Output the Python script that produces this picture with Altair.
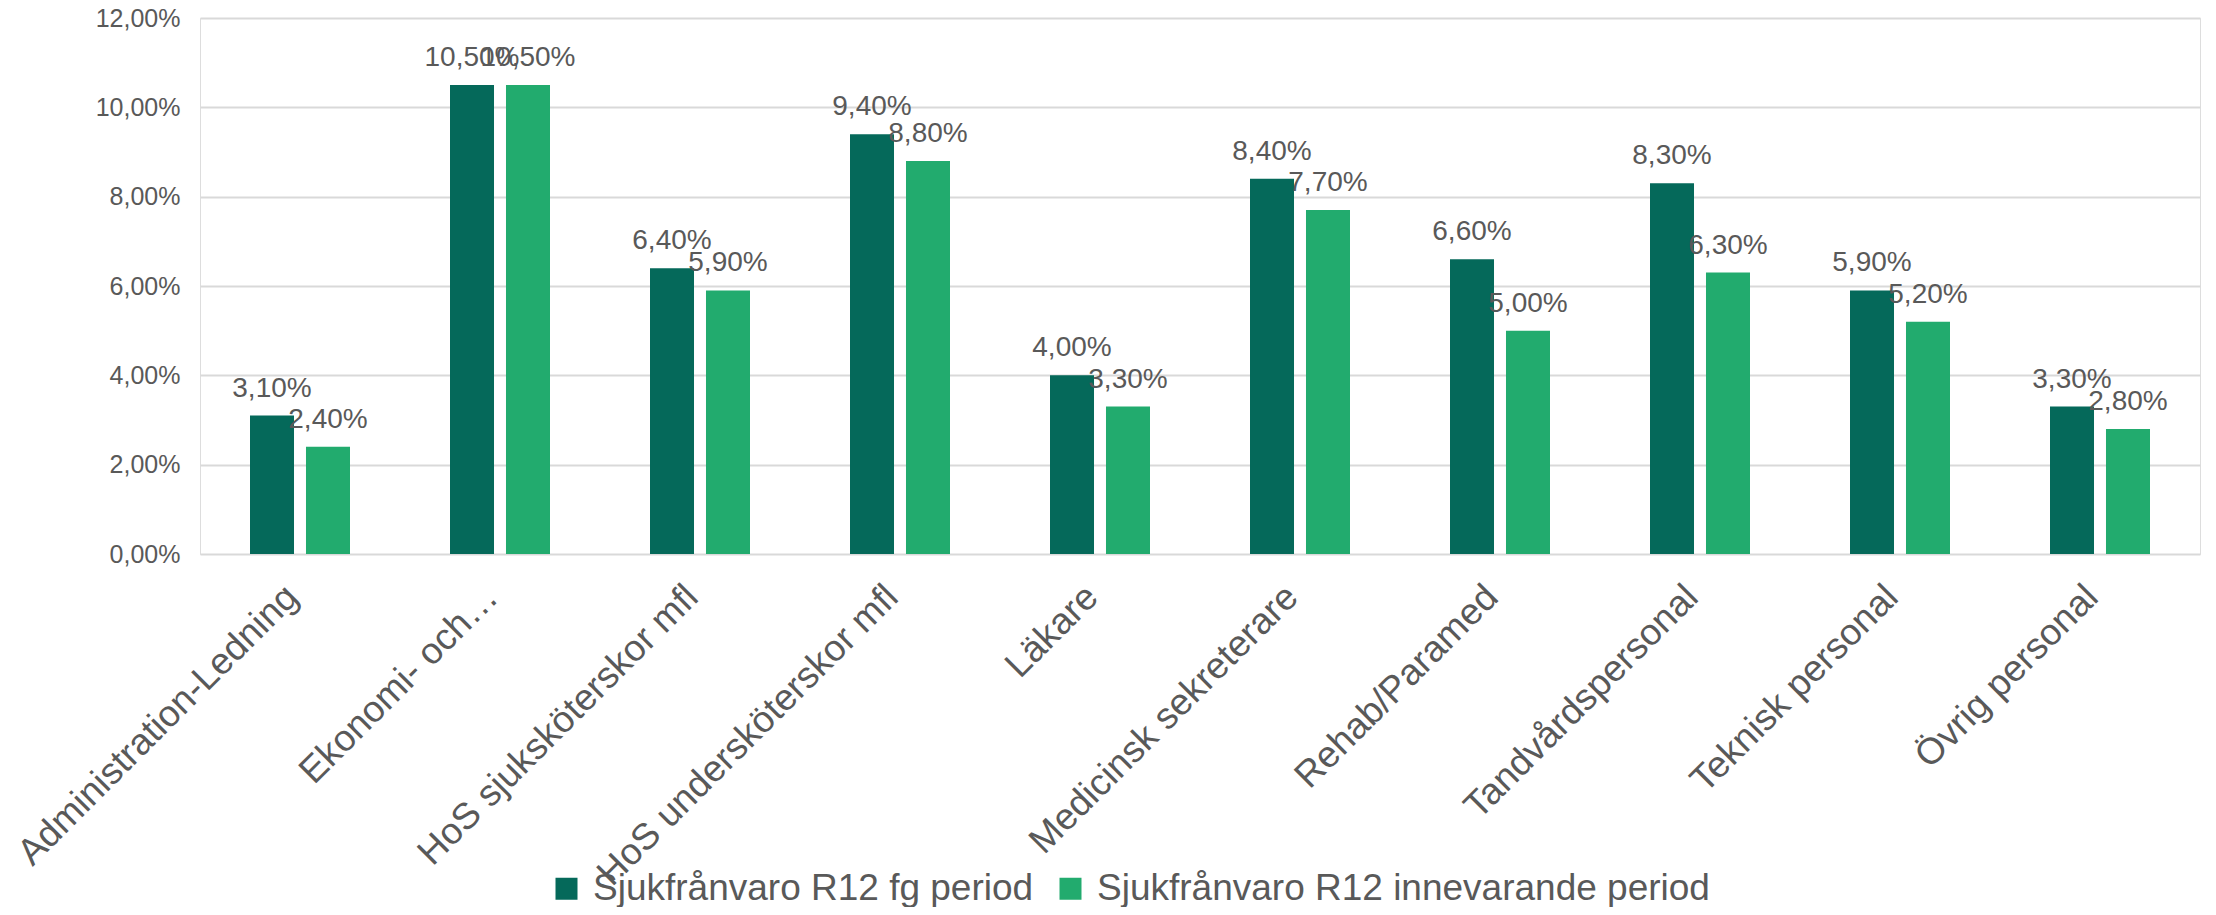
import altair as alt
import pandas as pd

categories = ["Administration-Ledning", "Ekonomi- och…", "HoS sjuksköterskor mfl",
              "HoS undersköterskor mfl", "Läkare", "Medicinsk sekreterare",
              "Rehab/Paramed", "Tandvårdspersonal", "Teknisk personal", "Övrig personal"]
series_names = ["Sjukfrånvaro R12 fg period", "Sjukfrånvaro R12 innevarande period"]
prev_period = [3.1, 10.5, 6.4, 9.4, 4.0, 8.4, 6.6, 8.3, 5.9, 3.3]
curr_period = [2.4, 10.5, 5.9, 8.8, 3.3, 7.7, 5.0, 6.3, 5.2, 2.8]
colors = ["#05695A", "#22AB6E"]
y_ticks = [0, 2, 4, 6, 8, 10, 12]

rows = []
for s, vals in zip(series_names, [prev_period, curr_period]):
    for c, v in zip(categories, vals):
        rows.append({"kategori": c, "serie": s, "varde": v,
                     "etikett": f"{v:.2f}".replace(".", ",") + "%"})
df = pd.DataFrame(rows)

FONT = "Liberation Sans"

x_enc = alt.X("kategori:N", sort=categories,
              scale=alt.Scale(paddingInner=0.5, paddingOuter=0.25),
              axis=alt.Axis(title=None, labelAngle=-45, labelAlign="right",
                            labelBaseline="alphabetic", labelFontSize=37,
                            labelColor="#595959", labelFont=FONT,
                            labelPadding=45, ticks=False, domain=False,
                            labelLimit=0))
xoff_enc = alt.XOffset("serie:N", sort=series_names,
                       scale=alt.Scale(paddingInner=0.214, paddingOuter=0))
y_enc = alt.Y("varde:Q", scale=alt.Scale(domain=[0, 12], nice=False),
              axis=alt.Axis(title=None, values=y_ticks,
                            labelExpr="replace(format(datum.value, '.2f'), '.', ',') + '%'",
                            labelFontSize=25, labelColor="#595959", labelFont=FONT,
                            labelPadding=20, ticks=False, domain=False,
                            gridColor="#D9D9D9", gridWidth=2))

bars = alt.Chart(df).mark_bar().encode(
    x=x_enc,
    xOffset=xoff_enc,
    y=y_enc,
    color=alt.Color("serie:N", sort=series_names,
                    scale=alt.Scale(domain=series_names, range=colors),
                    legend=alt.Legend(title=None, orient="none", direction="horizontal",
                                      legendX=348, legendY=852, padding=0,
                                      symbolType="square",
                                      symbolSize=484, symbolStrokeWidth=0,
                                      labelFontSize=37, labelColor="#595959",
                                      labelFont=FONT, labelOffset=8,
                                      columnPadding=18, labelLimit=0)),
)

labels = alt.Chart(df).mark_text(baseline="alphabetic", dy=-19, fontSize=28,
                                 font=FONT, color="#595959").encode(
    x=alt.X("kategori:N", sort=categories),
    xOffset=alt.XOffset("serie:N", sort=series_names),
    y=alt.Y("varde:Q"),
    text="etikett:N",
)

chart = alt.layer(bars, labels).properties(
    width=2000, height=536,
    autosize=alt.AutoSizeParams(type="none"),
    padding={"left": 192, "top": 10, "right": 8, "bottom": 353},
).configure_view(stroke=None).configure(background="white")

chart.save("out.html", embed_options={"renderer": "svg", "actions": False})
